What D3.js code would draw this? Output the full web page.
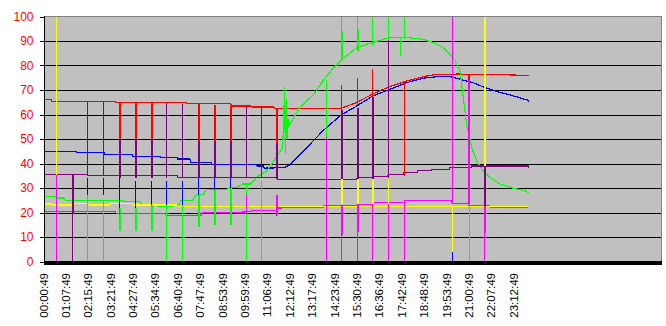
<!DOCTYPE html>
<html>
<head>
<meta charset="utf-8">
<script src="https://cdn.jsdelivr.net/npm/d3@7"></script>
<style>
  body { margin: 0; background: #fff; }
  svg { display: block; font-family: "Liberation Sans", Arial, sans-serif; }
</style>
</head>
<body>
<svg id="chart" width="666" height="326"></svg>
<script>
// values, x in hours after 00:00:49
const yTicks = [0, 10, 20, 30, 40, 50, 60, 70, 80, 90, 100];
const timeLabels = ["00:00:49", "01:07:49", "02:15:49", "03:21:49", "04:27:49", "05:34:49",
  "06:40:49", "07:47:49", "08:53:49", "09:59:49", "11:06:49", "12:12:49", "13:17:49",
  "14:23:49", "15:30:49", "16:36:49", "17:42:49", "18:48:49", "19:53:49", "21:00:49",
  "22:07:49", "23:12:49"];
const LABEL_STEP = 1.1167; // hours between two labels
const X_MAX = 30.76;

const redLine = [[0, 66.1], [0.35, 66.1], [0.4, 65.3], [3.55, 65.3], [3.6, 64.9], [7.1, 64.9],
  [7.15, 64.4], [9.3, 64.4], [9.35, 63.5], [10.3, 63.5], [10.35, 63.1], [11.45, 63.1],
  [11.5, 62.4], [14.75, 62.3], [15.58, 64.9], [16.37, 68.3], [17.2, 71.3], [18.1, 73.7],
  [18.9, 75.4], [19.4, 76.2], [20.6, 76.5], [22.7, 76.3], [24.18, 75.9]];

const blueLine = [[0, 45], [1.6, 45], [1.62, 44.5], [2.99, 44.5], [3.0, 43.8], [4.39, 43.8],
  [4.4, 42.9], [5.78, 42.9], [5.8, 42.4], [6.63, 42.4], [6.65, 41.8], [7.28, 41.8],
  [7.3, 40.4], [8.33, 40.4], [8.35, 39.7], [10.6, 39.7], [10.62, 39], [10.95, 39],
  [10.97, 38.1], [11.96, 38.3], [12.26, 39.5], [13.1, 46.5], [13.9, 53.3], [14.76, 59.5],
  [15.59, 63.5], [16.4, 67.6], [17.25, 70.3], [18.08, 73], [18.9, 74.8], [19.74, 75.6],
  [20.24, 75.5], [20.57, 74.8], [20.89, 74], [21.39, 73], [21.88, 71.3], [22.57, 69.4],
  [23.23, 68], [24.14, 65.8], [24.18, 65.3]];

const greenLine = [[0, 26.5], [0.55, 26.5], [0.6, 25.9], [1.0, 25.9], [1.05, 25], [3.95, 25],
  [4.0, 24.5], [4.8, 24.5], [4.85, 23.4], [5.6, 23.4], [5.65, 22.6], [6.4, 22.6],
  [6.45, 23.4], [6.75, 23.4], [6.8, 24.8], [7.4, 24.8], [7.6, 27.5], [7.95, 27.5],
  [8.1, 29.5], [9.1, 29.5], [9.3, 30.2], [9.6, 30.2], [9.9, 31.6], [10.3, 31.6],
  [10.6, 34.3], [11.1, 37], [11.45, 41], [11.9, 46.5], [12.0, 71], [12.03, 44],
  [12.08, 66], [12.12, 50], [12.17, 58], [12.2, 55], [12.26, 56], [12.75, 62.9],
  [13.46, 68.3], [13.96, 74.4], [14.46, 79.2], [14.8, 82], [15.59, 87.3], [16.1, 88.7],
  [16.76, 90.3], [17.25, 91.4], [18.1, 91.4], [18.9, 90.7], [19.4, 89.4], [19.9, 87.3],
  [20.4, 83.3], [20.74, 77.8], [20.9, 67], [21.07, 56], [21.32, 46.5], [21.57, 41.1],
  [21.9, 37], [22.24, 34.3], [22.73, 31.6], [23.4, 29.9], [24.0, 28.8], [24.15, 28.0]];

const purpleLine = [[0, 35.4], [2.15, 35.4], [2.17, 35], [6.63, 35], [6.65, 34.3],
  [11.6, 34.3], [11.62, 33.6], [15.6, 33.6], [15.62, 34.3], [16.37, 34.3], [16.39, 34.7],
  [17.1, 34.7], [17.2, 35.6], [17.9, 35.6], [17.92, 36.3], [18.6, 36.3], [18.62, 37],
  [19.3, 37], [19.32, 37.7], [20.2, 37.7], [20.22, 38.4], [21.3, 38.4], [21.32, 39],
  [24.15, 39], [24.16, 38.2]];

const yellowLine = [[0, 23.5], [0.4, 23.5], [0.42, 23.1], [1.5, 23.1], [1.52, 23.8],
  [2.2, 23.8], [2.22, 23.1], [3.3, 23.1], [3.32, 23.7], [4.4, 23.7], [4.42, 23.1],
  [6.6, 23.1], [6.65, 22.4], [24.15, 22.4]];

const magentaLine = [[0, 20.4], [3.55, 20.4], [3.6, 19.6], [6.05, 19.6], [6.1, 18.9],
  [7.85, 18.9], [7.9, 20], [9.6, 20], [10.3, 20.4], [10.35, 20.7], [11.6, 20.7],
  [11.65, 21.8], [12.26, 22], [13.9, 22], [13.95, 22.7], [15.6, 22.7], [15.65, 23.4],
  [16.35, 23.4], [16.4, 24], [17.95, 24], [18.0, 24.8], [20.3, 24.8], [20.35, 23.7],
  [21.15, 23.7], [21.2, 22.7], [22.2, 22.7], [22.25, 22.0], [24.15, 22.0]];

// glitch samples: [hour, low, high] of the visible vertical stroke
const redSpikes = [[3.74, 50, 65], [3.79, 50, 65], [4.52, 50, 65], [4.57, 50, 65],
  [5.32, 50, 64.5], [5.37, 50, 64.5], [7.68, 49, 64.4], [7.73, 49, 64.4],
  [8.47, 49, 64], [8.52, 49, 64], [9.27, 49, 63.5], [9.32, 49, 63.5],
  [11.58, 48, 62.4], [11.63, 48, 62.4], [14.81, 62, 72], [15.59, 64, 75],
  [16.37, 66.8, 78.5], [17.96, 35, 73.7], [21.15, 74, 76.5], [21.2, 74, 76.5]];

const blueSpikes = [[2.16, 27, 34], [2.96, 27, 34], [3.74, 22, 34], [4.52, 22, 33],
  [5.32, 23, 33], [6.10, 23, 33], [6.89, 23, 33], [7.68, 27, 34], [8.47, 29, 34],
  [9.27, 30, 34], [11.58, 18.5, 20], [20.35, 0, 3.7], [21.12, 55, 74.5]];

const greenSpikes = [[2.16, 0, 27], [2.96, 0, 25], [3.74, 12.5, 22], [3.79, 12.5, 22],
  [4.52, 12.5, 22], [4.57, 12.5, 22], [5.32, 12.5, 23], [5.37, 12.5, 23], [6.10, 0, 23],
  [6.89, 0, 23], [7.68, 14, 27], [7.73, 14, 27], [8.47, 15, 29], [8.52, 15, 29],
  [9.27, 15, 30], [9.32, 15, 30], [10.05, 0, 31], [10.83, 0, 33], [14.04, 51, 74],
  [14.81, 82, 100], [14.86, 83, 94], [15.59, 86, 100], [15.64, 86, 95], [16.37, 88, 100],
  [17.16, 90.5, 100], [17.75, 84, 91.4], [17.96, 90.7, 100], [21.17, 0, 23.4]];

const yellowSpikes = [[0.61, 35.4, 100], [1.42, 11.8, 19.3], [14.81, 23.4, 33.6],
  [14.86, 23.4, 33.6], [15.59, 23.4, 33.6], [15.64, 23.4, 33.6], [16.37, 23.4, 33.6],
  [16.42, 23.4, 33.6], [17.16, 23.4, 34], [20.35, 3.7, 22.7], [21.93, 39, 100],
  [21.98, 39, 100]];

const magentaSpikes = [[0.61, 0, 35.4], [3.74, 19, 22], [10.05, 19.5, 27], [11.58, 19, 27],
  [11.63, 19, 27], [14.04, 0, 51], [14.81, 0, 22.7], [14.86, 11, 22.7], [15.59, 0, 23.4],
  [15.64, 12, 23.4], [16.37, 0, 23.4], [17.16, 0, 23.4], [17.96, 0, 24.8],
  [20.35, 23.4, 100], [21.15, 23.4, 74], [21.2, 23.4, 74], [21.93, 0, 22.7],
  [21.98, 11.8, 22.7]];

const purpleSpikes = [[1.38, 0, 35.4], [1.43, 19.3, 35.4], [2.16, 35, 65.3], [2.96, 35, 65.3],
  [3.74, 34, 50], [3.79, 34, 50], [4.52, 34, 50], [4.57, 34, 50], [5.32, 34, 50],
  [5.37, 34, 50], [6.10, 34, 64.5], [6.89, 34, 64.4], [7.68, 34, 49], [7.73, 34, 49],
  [8.47, 34, 49], [8.52, 34, 49], [9.27, 34, 49], [9.32, 34, 49], [10.05, 34, 63.1],
  [10.83, 34, 62.8], [11.58, 34, 48], [11.63, 34, 48], [14.81, 33.6, 62], [14.86, 33.6, 62],
  [15.59, 33.6, 62.8], [15.64, 33.6, 62.8], [16.37, 33.6, 67], [16.42, 33.6, 67],
  [17.16, 34, 90.5], [21.93, 22.7, 39], [21.98, 22.7, 39]];

(function () {
  const PLOT = { left: 44, right: 661, top: 16.5, bottom: 261.5 };

  const svg = d3.select("#chart").attr("shape-rendering", "crispEdges");

  const x = d3.scaleLinear().domain([0, X_MAX]).range([PLOT.left, PLOT.right]);
  const y = d3.scaleLinear().domain([0, 100]).range([PLOT.bottom, PLOT.top]);

  // plot background
  svg.append("rect")
    .attr("x", PLOT.left).attr("y", 16)
    .attr("width", PLOT.right - PLOT.left).attr("height", 246)
    .attr("fill", "#c0c0c0");

  // gridlines
  svg.append("g").selectAll("line")
    .data(yTicks.filter(v => v > 0 && v < 100))
    .join("line")
    .attr("x1", PLOT.left).attr("x2", PLOT.right)
    .attr("y1", d => Math.round(y(d)) + 0.5).attr("y2", d => Math.round(y(d)) + 0.5)
    .attr("stroke", "#000");

  // frame top + right
  svg.append("path")
    .attr("d", `M${PLOT.left},16.5H${PLOT.right + 0.5}V262`)
    .attr("fill", "none").attr("stroke", "#808080");

  const line = d3.line().x(d => x(d[0])).y(d => y(d[1]));

  const series = [
    { line: redLine, color: "#ff0000" },
    { line: blueLine, color: "#0000ff" },
    { line: greenLine, color: "#00ff00" },
    { line: purpleLine, color: "#800080" },
    { line: magentaLine, color: "#ff00ff" },
    { line: yellowLine, color: "#ffff00" }
  ];

  svg.append("g").selectAll("path")
    .data(series)
    .join("path")
    .attr("d", d => line(d.line))
    .attr("fill", "none")
    .attr("stroke", d => d.color)
    .attr("stroke-width", 1.2)
    .attr("stroke-linejoin", "round");

  const spikes = [
    { data: redSpikes, color: "#ff0000" },
    { data: blueSpikes, color: "#0000ff" },
    { data: greenSpikes, color: "#00ff00" },
    { data: yellowSpikes, color: "#ffff00" },
    { data: magentaSpikes, color: "#ff00ff" },
    { data: purpleSpikes, color: "#800080" }
  ];

  spikes.forEach(s => {
    svg.append("g").selectAll("line")
      .data(s.data)
      .join("line")
      .attr("x1", d => Math.round(x(d[0])) + 0.5).attr("x2", d => Math.round(x(d[0])) + 0.5)
      .attr("y1", d => y(d[1])).attr("y2", d => y(d[2]))
      .attr("stroke", s.color)
      .attr("stroke-width", 1);
  });

  // y axis
  const yAxis = svg.append("g");
  yAxis.append("line")
    .attr("x1", PLOT.left + 0.5).attr("x2", PLOT.left + 0.5)
    .attr("y1", 16).attr("y2", 262)
    .attr("stroke", "#000");
  yAxis.selectAll("line.tick")
    .data(yTicks)
    .join("line")
    .attr("class", "tick")
    .attr("x1", 40).attr("x2", PLOT.left)
    .attr("y1", d => Math.round(y(d)) + 0.5).attr("y2", d => Math.round(y(d)) + 0.5)
    .attr("stroke", "#000");
  yAxis.selectAll("text")
    .data(yTicks)
    .join("text")
    .attr("x", 33.5)
    .attr("y", d => y(d))
    .attr("dy", "0.36em")
    .attr("text-anchor", "end")
    .attr("fill", "#ff0000")
    .style("font-size", "12px")
    .text(d => d);

  // x axis: thick black base
  svg.append("rect")
    .attr("x", PLOT.left).attr("y", 261)
    .attr("width", PLOT.right - PLOT.left + 1).attr("height", 4)
    .attr("fill", "#000");

  svg.append("g").selectAll("text")
    .data(timeLabels)
    .join("text")
    .attr("transform", (d, i) => `translate(${x(i * LABEL_STEP) + 3.5},273) rotate(-90)`)
    .attr("text-anchor", "end")
    .attr("fill", "#000")
    .style("font-size", "11.5px")
    .text(d => d);
})();
</script>
</body>
</html>
